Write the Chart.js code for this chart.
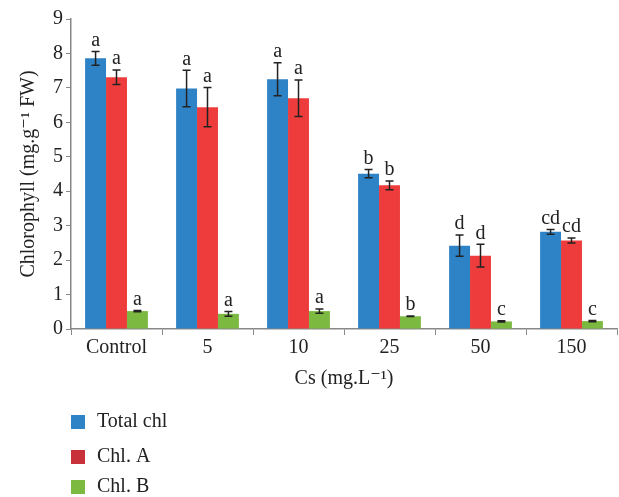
<!DOCTYPE html>
<html>
<head>
<meta charset="utf-8">
<script src="https://cdn.jsdelivr.net/npm/chart.js@4/dist/chart.umd.min.js"></script>
<style>
  html, body { margin: 0; padding: 0; background: #fff; }
  #wrap { width: 619px; height: 497px; position: relative; }
</style>
</head>
<body>
<div id="wrap"><canvas id="chlChart" width="619" height="497"></canvas></div>
<script>
// Data
const categories = ['Control', '5', '10', '25', '50', '150'];
const seriesNames = ['Total chl', 'Chl. A', 'Chl. B'];
const totalChl = [7.86, 6.98, 7.25, 4.51, 2.42, 2.82];
const chlA = [7.31, 6.44, 6.70, 4.17, 2.13, 2.57];
const chlB = [0.52, 0.44, 0.52, 0.37, 0.22, 0.23];
const totalErr = [0.20, 0.53, 0.48, 0.12, 0.31, 0.07];
const chlAErr = [0.21, 0.57, 0.53, 0.13, 0.33, 0.07];
const chlBErr = [0.02, 0.07, 0.06, 0.01, 0.02, 0.02];
const totalLetters = ['a', 'a', 'a', 'b', 'd', 'cd'];
const chlALetters = ['a', 'a', 'a', 'b', 'd', 'cd'];
const chlBLetters = ['a', 'a', 'a', 'b', 'c', 'c'];
const yTicks = [0, 1, 2, 3, 4, 5, 6, 7, 8, 9];

const colors = ['#2e82c6', '#ee3c3c', '#7cb940'];
const legendColors = ['#2e82c6', '#c8303a', '#7cb940'];
const errors = [totalErr, chlAErr, chlBErr];
const letters = [totalLetters, chlALetters, chlBLetters];
const serif = '"Liberation Serif", "DejaVu Serif", serif';

// Error bars + significance letters
const errorBarPlugin = {
    id: 'errorBars',
    afterDatasetsDraw(chart) {
        const ctx = chart.ctx;
        const y = chart.scales.y;
        ctx.save();
        chart.data.datasets.forEach((ds, di) => {
            const meta = chart.getDatasetMeta(di);
            meta.data.forEach((bar, i) => {
                const v = ds.data[i];
                const e = errors[di][i];
                const yHi = y.getPixelForValue(v + e);
                const yLo = y.getPixelForValue(v - e);
                const x = bar.x;
                ctx.strokeStyle = '#222';
                ctx.lineWidth = 1.5;
                ctx.beginPath();
                ctx.moveTo(x, yHi); ctx.lineTo(x, yLo);
                ctx.moveTo(x - 4, yHi); ctx.lineTo(x + 4, yHi);
                ctx.moveTo(x - 4, yLo); ctx.lineTo(x + 4, yLo);
                ctx.stroke();
                ctx.fillStyle = '#222';
                ctx.font = '20px ' + serif;
                ctx.textAlign = 'center';
                ctx.textBaseline = 'bottom';
                ctx.fillText(letters[di][i], x, yHi - 1);
            });
        });
        ctx.restore();
    }
};

// Vertical legend under the chart
const sideLegendPlugin = {
    id: 'sideLegend',
    afterDraw(chart) {
        const ctx = chart.ctx;
        const rows = [422, 457, 487];
        ctx.save();
        seriesNames.forEach((name, i) => {
            ctx.fillStyle = legendColors[i];
            ctx.fillRect(71, rows[i] - 7, 14, 14);
            ctx.fillStyle = '#222';
            ctx.font = '20px ' + serif;
            ctx.textAlign = 'left';
            ctx.textBaseline = 'middle';
            ctx.fillText(name, 97, rows[i]);
        });
        ctx.restore();
    }
};

new Chart(document.getElementById('chlChart'), {
    type: 'bar',
    data: {
        labels: categories,
        datasets: [
            { label: seriesNames[0], data: totalChl, backgroundColor: colors[0] },
            { label: seriesNames[1], data: chlA, backgroundColor: colors[1] },
            { label: seriesNames[2], data: chlB, backgroundColor: colors[2] }
        ]
    },
    options: {
        responsive: false,
        animation: false,
        layout: { padding: { left: 13, right: 2, top: 19, bottom: 103 } },
        datasets: { bar: { barPercentage: 1, categoryPercentage: 0.69 } },
        plugins: {
            legend: { display: false },
            tooltip: { enabled: false }
        },
        scales: {
            x: {
                grid: { offset: true, drawOnChartArea: false, color: '#888', tickLength: 6 },
                border: { color: '#888', width: 1.5 },
                ticks: { color: '#222', font: { family: serif, size: 20 }, padding: 1 },
                title: {
                    display: true, text: 'Cs (mg.L\u207B\u00B9)', color: '#222',
                    font: { family: serif, size: 20 }, padding: { top: 4, bottom: 3 }
                },
                afterFit(scale) { scale.height = 65; }
            },
            y: {
                min: 0, max: 9,
                afterBuildTicks(scale) { scale.ticks = yTicks.map(v => ({ value: v })); },
                grid: { drawOnChartArea: false, color: '#888', tickLength: 5 },
                border: { color: '#888', width: 1.5 },
                ticks: { color: '#222', font: { family: serif, size: 20 }, padding: 3 },
                title: {
                    display: true, text: 'Chlorophyll (mg.g\u207B\u00B9 FW)', color: '#222',
                    font: { family: serif, size: 20 }, padding: 4
                },
                afterFit(scale) { scale.width = 58; }
            }
        }
    },
    plugins: [errorBarPlugin, sideLegendPlugin]
});
</script>
</body>
</html>
